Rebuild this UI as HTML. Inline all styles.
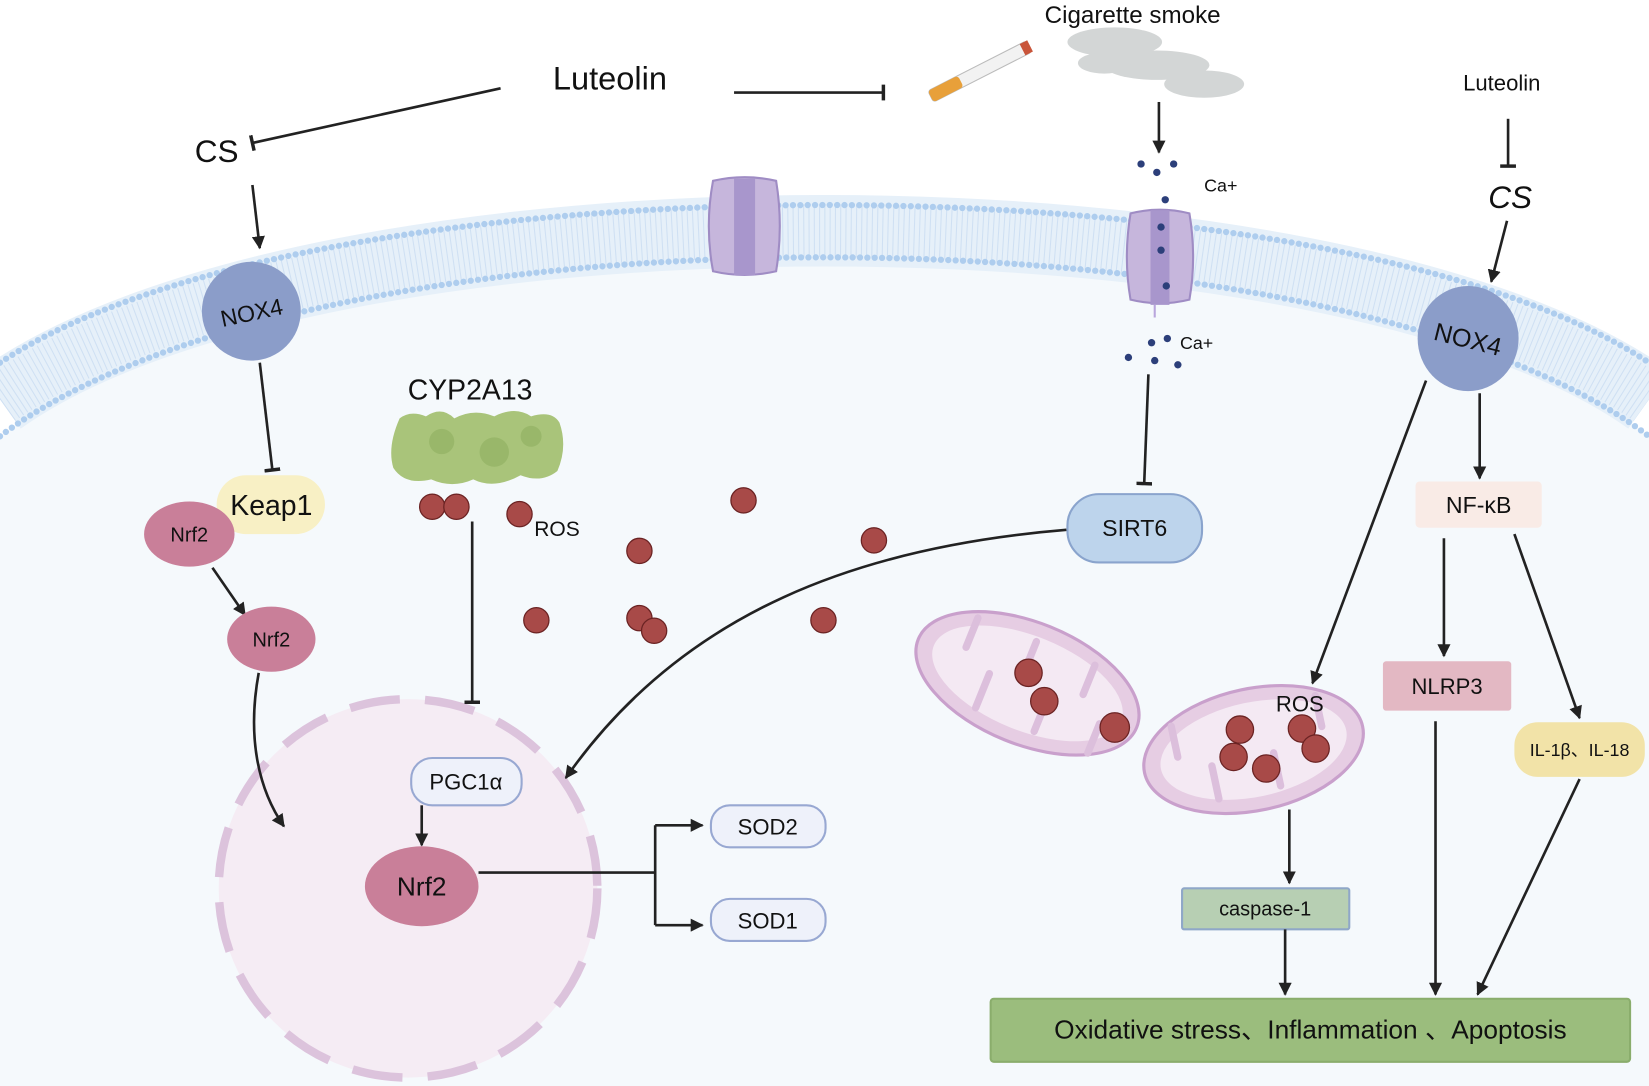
<!DOCTYPE html>
<html><head><meta charset="utf-8"><style>
html,body{margin:0;padding:0;background:#fff}
svg{display:block}
text{font-family:"Liberation Sans","Noto Sans CJK SC",sans-serif;fill:#111}
</style></head><body>
<svg width="1649" height="1086" viewBox="0 0 1568 1033" preserveAspectRatio="none" xmlns="http://www.w3.org/2000/svg">
<defs>
<marker id="ar" viewBox="0 0 10 10" refX="9" refY="5" markerWidth="5" markerHeight="5" orient="auto-start-reverse"><path d="M0,0L10,5L0,10z" fill="#222"/></marker>
<marker id="tb" viewBox="0 0 10 10" refX="5" refY="5" markerWidth="6" markerHeight="6" orient="auto"><path d="M5,0V10" stroke="#222" stroke-width="2.2"/></marker>
</defs>
<rect width="1568" height="1033" fill="#fff"/>
<path d="M0,415 C300,188 1268,188 1568,415 V1033 H0Z" fill="#f5f9fc"/>
<path d="M0,380 C300,166 1268,166 1568,380" fill="none" stroke="#e6f0f9" stroke-width="68"/>
<path d="M0,380 C300,166 1268,166 1568,380" fill="none" stroke="#cfe0f3" stroke-width="50" stroke-dasharray="1 4"/>
<path d="M0,345 C300,145 1268,145 1568,345" fill="none" stroke="#aecdee" stroke-width="6" stroke-dasharray="0 7" stroke-linecap="round"/>
<path d="M0,415 C300,188 1268,188 1568,415" fill="none" stroke="#aecdee" stroke-width="6" stroke-dasharray="0 7" stroke-linecap="round"/>
<g fill="#c6b6dc" stroke="#9f8cc4" stroke-width="2">
<path d="M678,172 Q708,165 738,172 Q745,215 738,258 Q708,265 678,258 Q670,215 678,172Z"/>
<rect x="698" y="170" width="20" height="92" fill="#a896cc" stroke="none"/>
<path d="M1075,203 Q1103,196 1131,203 Q1138,245 1131,285 Q1103,292 1075,285 Q1068,245 1075,203Z"/>
<rect x="1094" y="200" width="18" height="90" fill="#a896cc" stroke="none"/>
</g>
<line x1="1098" y1="290" x2="1098" y2="302" stroke="#b9a6dc" stroke-width="2"/>
<g fill="#2c3f7a">
<circle cx="1085" cy="156" r="3.5"/><circle cx="1100" cy="164" r="3.5"/><circle cx="1116" cy="156" r="3.5"/><circle cx="1108" cy="190" r="3.5"/>
<circle cx="1104" cy="216" r="3.5"/><circle cx="1104" cy="238" r="3.5"/><circle cx="1109" cy="272" r="3.5"/>
<circle cx="1095" cy="326" r="3.5"/><circle cx="1110" cy="322" r="3.5"/><circle cx="1073" cy="340" r="3.5"/><circle cx="1098" cy="343" r="3.5"/><circle cx="1120" cy="347" r="3.5"/>
</g>
<text x="1145" y="182" font-size="17">Ca+</text>
<text x="1122" y="332" font-size="17">Ca+</text>
<g fill="#c9cccc" opacity="0.8">
<ellipse cx="1060" cy="40" rx="45" ry="14"/><ellipse cx="1100" cy="62" rx="50" ry="14"/><ellipse cx="1145" cy="80" rx="38" ry="13"/><ellipse cx="1050" cy="60" rx="25" ry="10"/>
</g>
<g transform="rotate(-27 930 70)">
<rect x="880" y="63" width="105" height="12" rx="3" fill="#f2f2f2" stroke="#bbb"/>
<rect x="880" y="63" width="32" height="12" rx="3" fill="#e8a03a"/>
<rect x="978" y="63" width="8" height="12" fill="#c9553a"/>
</g>
<text x="1077" y="22" font-size="23" text-anchor="middle">Cigarette smoke</text>
<text x="580" y="85" font-size="31" text-anchor="middle">Luteolin</text>
<line x1="476" y1="84" x2="240" y2="136" stroke="#222" stroke-width="2.5" marker-end="url(#tb)"/>
<line x1="698" y1="88" x2="840" y2="88" stroke="#222" stroke-width="2.5" marker-end="url(#tb)"/>
<text x="206" y="154" font-size="30" text-anchor="middle">CS</text>
<line x1="240" y1="176" x2="247" y2="236" stroke="#222" stroke-width="2.5" marker-end="url(#ar)"/>
<circle cx="239" cy="296" r="47" fill="#8b9dc9"/>
<text x="239" y="305" font-size="22" text-anchor="middle" transform="rotate(-12 239 296)">NOX4</text>
<line x1="247" y1="345" x2="259" y2="447" stroke="#222" stroke-width="2.5" marker-end="url(#tb)"/>
<rect x="206" y="452" width="103" height="56" rx="28" fill="#f8f0c5"/>
<text x="258" y="490" font-size="27" text-anchor="middle">Keap1</text>
<ellipse cx="180" cy="508" rx="43" ry="31" fill="#c97f99"/>
<text x="180" y="515" font-size="19" text-anchor="middle">Nrf2</text>
<line x1="202" y1="540" x2="233" y2="585" stroke="#222" stroke-width="2.5" marker-end="url(#ar)"/>
<ellipse cx="258" cy="608" rx="42" ry="31" fill="#c97f99"/>
<text x="258" y="615" font-size="19" text-anchor="middle">Nrf2</text>
<circle cx="388" cy="845" r="180" fill="#f5ecf4" stroke="#dcc3dc" stroke-width="8" stroke-dasharray="48 24"/>
<path d="M246,640 C235,700 245,750 270,786" fill="none" stroke="#222" stroke-width="2.5" marker-end="url(#ar)"/>
<text x="447" y="380" font-size="27" text-anchor="middle">CYP2A13</text>
<path d="M380,398 Q390,390 405,396 Q420,386 432,398 Q450,388 470,396 Q490,386 505,396 Q525,390 532,402 Q540,425 530,448 Q515,460 495,452 Q470,466 450,456 Q430,465 410,456 Q385,462 374,445 Q368,425 380,398Z" fill="#a9c47a"/>
<g fill="#8fb060" opacity="0.6"><circle cx="420" cy="420" r="12"/><circle cx="470" cy="430" r="14"/><circle cx="505" cy="415" r="10"/></g>
<g fill="#a84a48" stroke="#6b2323" stroke-width="1.2">
<circle cx="411" cy="482" r="12"/><circle cx="434" cy="482" r="12"/><circle cx="494" cy="489" r="12"/>
<circle cx="707" cy="476" r="12"/><circle cx="608" cy="524" r="12"/><circle cx="831" cy="514" r="12"/>
<circle cx="510" cy="590" r="12"/><circle cx="608" cy="588" r="12"/><circle cx="622" cy="600" r="12"/><circle cx="783" cy="590" r="12"/>
</g>
<text x="508" y="510" font-size="20">ROS</text>
<line x1="449" y1="496" x2="449" y2="668" stroke="#222" stroke-width="2.5" marker-end="url(#tb)"/>
<rect x="391" y="721" width="105" height="45" rx="20" fill="#eef1fa" stroke="#98a8d2" stroke-width="2"/>
<text x="443" y="751" font-size="21" text-anchor="middle">PGC1α</text>
<line x1="401" y1="766" x2="401" y2="804" stroke="#222" stroke-width="2.5" marker-end="url(#ar)"/>
<ellipse cx="401" cy="843" rx="54" ry="38" fill="#c97f99"/>
<text x="401" y="852" font-size="25" text-anchor="middle">Nrf2</text>
<path d="M455,830 H623" stroke="#222" stroke-width="2.5"/>
<path d="M623,785 V880" stroke="#222" stroke-width="2.5" fill="none"/>
<line x1="623" y1="785" x2="668" y2="785" stroke="#222" stroke-width="2.5" marker-end="url(#ar)"/>
<line x1="623" y1="880" x2="668" y2="880" stroke="#222" stroke-width="2.5" marker-end="url(#ar)"/>
<rect x="676" y="766" width="109" height="40" rx="18" fill="#eef1fa" stroke="#98a8d2" stroke-width="2"/>
<text x="730" y="794" font-size="21" text-anchor="middle">SOD2</text>
<rect x="676" y="855" width="109" height="40" rx="18" fill="#eef1fa" stroke="#98a8d2" stroke-width="2"/>
<text x="730" y="883" font-size="21" text-anchor="middle">SOD1</text>
<line x1="1092" y1="356" x2="1088" y2="460" stroke="#222" stroke-width="2.5" marker-end="url(#tb)"/>
<line x1="1102" y1="97" x2="1102" y2="145" stroke="#222" stroke-width="2.5" marker-end="url(#ar)"/>
<rect x="1015" y="470" width="128" height="65" rx="30" fill="#bdd4ec" stroke="#8aa4cd" stroke-width="2"/>
<text x="1079" y="510" font-size="22" text-anchor="middle">SIRT6</text>
<path d="M1014,504 C820,520 650,580 538,740" fill="none" stroke="#222" stroke-width="2.5" marker-end="url(#ar)"/>
<g transform="rotate(22 977 650)">
<ellipse cx="977" cy="650" rx="112" ry="58" fill="#e6cde3" stroke="#c9a0cc" stroke-width="3"/>
<ellipse cx="977" cy="650" rx="96" ry="45" fill="#f4e9f3"/>
<g fill="none" stroke="#dcbfdc" stroke-width="7" stroke-linecap="round">
<path d="M910,610 V640"/><path d="M940,690 V655"/><path d="M970,610 V640"/><path d="M1000,690 V660"/><path d="M1030,610 V640"/><path d="M1055,690 V660"/>
</g>
</g>
<g transform="rotate(-12 1192 713)">
<ellipse cx="1192" cy="713" rx="106" ry="58" fill="#e6cde3" stroke="#c9a0cc" stroke-width="3"/>
<ellipse cx="1192" cy="713" rx="90" ry="45" fill="#f4e9f3"/>
<g fill="none" stroke="#dcbfdc" stroke-width="7" stroke-linecap="round">
<path d="M1120,675 V705"/><path d="M1150,752 V720"/><path d="M1210,752 V720"/><path d="M1260,675 V705"/>
</g>
</g>
<g fill="#a84a48" stroke="#6b2323" stroke-width="1.2">
<circle cx="978" cy="640" r="13"/><circle cx="993" cy="667" r="13"/><circle cx="1060" cy="692" r="14"/>
<circle cx="1179" cy="694" r="13"/><circle cx="1173" cy="720" r="13"/><circle cx="1204" cy="731" r="13"/><circle cx="1238" cy="693" r="13"/><circle cx="1251" cy="712" r="13"/>
</g>
<text x="1236" y="677" font-size="21" text-anchor="middle">ROS</text>
<text x="1428" y="86" font-size="21" text-anchor="middle">Luteolin</text>
<line x1="1434" y1="113" x2="1434" y2="158" stroke="#222" stroke-width="2.5" marker-end="url(#tb)"/>
<text x="1436" y="198" font-size="30" text-anchor="middle" font-style="italic">CS</text>
<line x1="1433" y1="210" x2="1418" y2="268" stroke="#222" stroke-width="2.5" marker-end="url(#ar)"/>
<ellipse cx="1396" cy="322" rx="48" ry="50" fill="#8b9dc9"/>
<text x="1396" y="331" font-size="24" text-anchor="middle" transform="rotate(14 1396 322)">NOX4</text>
<line x1="1356" y1="362" x2="1248" y2="650" stroke="#222" stroke-width="2.5" marker-end="url(#ar)"/>
<line x1="1407" y1="374" x2="1407" y2="455" stroke="#222" stroke-width="2.5" marker-end="url(#ar)"/>
<rect x="1346" y="458" width="120" height="44" rx="4" fill="#f9ebe6"/>
<text x="1406" y="488" font-size="22" text-anchor="middle">NF-κB</text>
<line x1="1373" y1="512" x2="1373" y2="624" stroke="#222" stroke-width="2.5" marker-end="url(#ar)"/>
<line x1="1440" y1="508" x2="1502" y2="683" stroke="#222" stroke-width="2.5" marker-end="url(#ar)"/>
<rect x="1315" y="629" width="122" height="47" rx="3" fill="#e3b8c3"/>
<text x="1376" y="660" font-size="21" text-anchor="middle">NLRP3</text>
<rect x="1440" y="687" width="124" height="52" rx="22" fill="#f2e3a8"/>
<text x="1502" y="719" font-size="17" text-anchor="middle">IL-1β、IL-18</text>
<line x1="1226" y1="770" x2="1226" y2="840" stroke="#222" stroke-width="2.5" marker-end="url(#ar)"/>
<rect x="1124" y="845" width="159" height="39" rx="2" fill="#b7cfb3" stroke="#8fa7c8" stroke-width="2"/>
<text x="1203" y="871" font-size="19" text-anchor="middle">caspase-1</text>
<line x1="1222" y1="884" x2="1222" y2="946" stroke="#222" stroke-width="2.5" marker-end="url(#ar)"/>
<line x1="1365" y1="686" x2="1365" y2="946" stroke="#222" stroke-width="2.5" marker-end="url(#ar)"/>
<line x1="1502" y1="741" x2="1405" y2="946" stroke="#222" stroke-width="2.5" marker-end="url(#ar)"/>
<rect x="942" y="950" width="608" height="60" rx="3" fill="#9bbd7d" stroke="#8aad6c" stroke-width="2"/>
<text x="1246" y="988" font-size="25" text-anchor="middle">Oxidative stress、Inflammation 、Apoptosis</text>
</svg>
</body></html>
